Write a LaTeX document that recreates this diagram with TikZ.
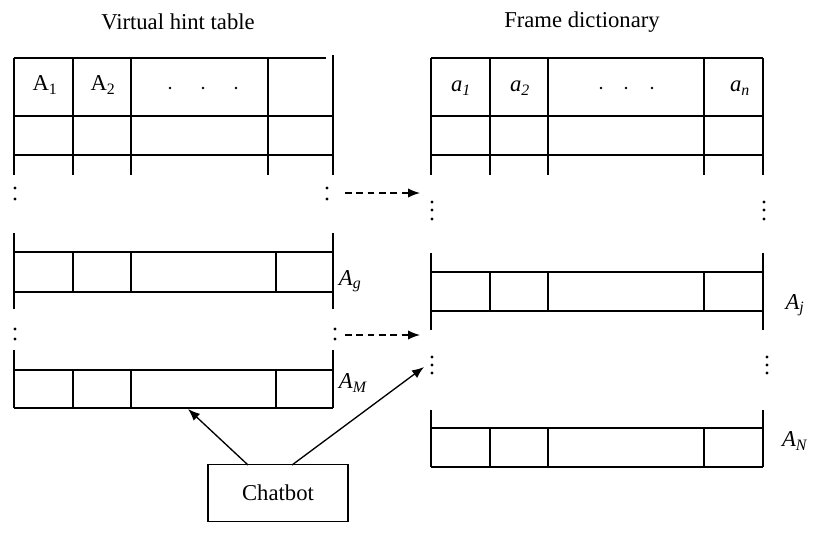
\documentclass[tikz,border=0pt]{standalone}
\usepackage{fontspec}
\setmainfont{Liberation Serif}
\usetikzlibrary{arrows.meta}
\newcommand{\ivar}[2]{\textit{#1}\textsubscript{\textit{#2}}}
\begin{document}
\begin{tikzpicture}[x=0.75pt,y=-0.75pt,line width=1.4pt,
  lbl/.style={font=\fontsize{17}{20}\selectfont,inner sep=0pt},
  arr/.style={-{Latex[length=9pt,width=7pt]},line width=1pt},
  darr/.style={-{Latex[length=9pt,width=7pt]},line width=1pt,dash pattern=on 5pt off 3.5pt}]
\useasboundingbox (0,0) rectangle (820,537);
\node[lbl] (t1) at (178,22) {Virtual hint table};
\node[lbl] (t2) at (582,22) {Frame dictionary};
% left top block
\draw (14,58) -- (326,58);
\draw (14,116) -- (333,116) (14,155) -- (333,155);
\foreach \x in {14,73,131,268} \draw (\x,58) -- (\x,175);
\draw (333,55) -- (333,175);
\node[lbl] at (45,85) {A\textsubscript{1}};
\node[lbl] at (103,85) {A\textsubscript{2}};
\foreach \x in {170,203,236} \fill (\x,88) circle (1.4);
\foreach \x in {15,327} {\fill (\x,188) circle (1.7); \fill (\x,199) circle (1.7);}
% left block 2
\draw (14,233) -- (14,309) (333,233) -- (333,309);
\draw (14,252) -- (333,252) (14,292) -- (333,292);
\foreach \x in {73,131,276} \draw (\x,252) -- (\x,292);
\node[lbl,anchor=west] at (338,281) {\ivar{A}{g}};
\foreach \x in {15,335} {\fill (\x,329) circle (1.7); \fill (\x,339) circle (1.7);}
% left block 3
\draw (14,350) -- (14,408) (333,350) -- (333,408);
\draw (14,370) -- (333,370) (14,408) -- (333,408);
\foreach \x in {73,131,276} \draw (\x,370) -- (\x,408);
\node[lbl,anchor=west] at (338,383) {\ivar{A}{M}};
% right top block
\draw (431,58) -- (763,58) (431,116) -- (763,116) (431,155) -- (763,155);
\foreach \x in {431,490,548,704,763} \draw (\x,58) -- (\x,175);
\node[lbl] at (461,88) {\ivar{a}{1}};
\node[lbl] at (520,88) {\ivar{a}{2}};
\node[lbl] at (740,88) {\ivar{a}{n}};
\foreach \x in {601,626,652} \fill (\x,88) circle (1.4);
\foreach \x in {432,764} {\foreach \y in {202,210,219} \fill (\x,\y) circle (1.7);}
% right block 2
\draw (431,253) -- (431,330) (763,253) -- (763,330);
\draw (431,272) -- (763,272) (431,311) -- (763,311);
\foreach \x in {490,548,704} \draw (\x,272) -- (\x,311);
\node[lbl] at (795,305) {\ivar{A}{j}};
\foreach \x in {432,767} {\foreach \y in {357,365,373} \fill (\x,\y) circle (1.7);}
% right block 3
\draw (431,410) -- (431,467) (763,410) -- (763,467);
\draw (431,428) -- (763,428) (431,467) -- (763,467);
\foreach \x in {490,548,704} \draw (\x,428) -- (\x,467);
\node[lbl] at (795,441) {\ivar{A}{N}};
% chatbot
\node[lbl,draw,line width=1pt,minimum width=140*0.75pt,minimum height=57*0.75pt] (cb) at (278,493) {Chatbot};
\coordinate (s1) at (345,193); \coordinate (e1) at (420,193);
\coordinate (s2) at (345,335); \coordinate (e2) at (420,335);
\draw[darr] (s1) -- (e1);
\draw[darr] (s2) -- (e2);
\coordinate (c1) at (248,465); \coordinate (h1) at (188,409);
\coordinate (c2) at (292,465); \coordinate (h2) at (424,367);
\draw[arr] (c1) -- (h1);
\draw[arr] (c2) -- (h2);
\end{tikzpicture}
\end{document}
